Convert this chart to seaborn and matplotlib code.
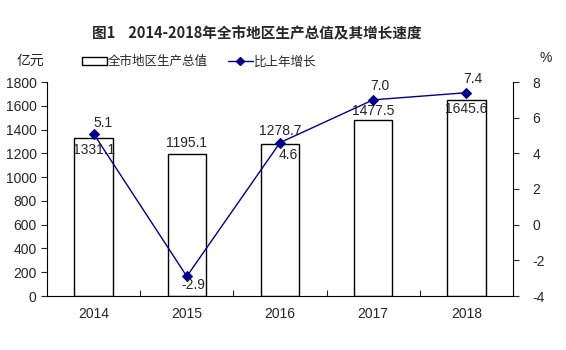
import matplotlib
matplotlib.use("Agg")
import matplotlib.pyplot as plt
import seaborn as sns
import numpy as np
import pandas as pd
from matplotlib.patches import Patch
from matplotlib.lines import Line2D

years = ["2014", "2015", "2016", "2017", "2018"]
gdp = [1331.1, 1195.1, 1278.7, 1477.5, 1645.6]
growth = [5.1, -2.9, 4.6, 7.0, 7.4]
gdp_labels = ["1331.1", "1195.1", "1278.7", "1477.5", "1645.6"]
growth_labels = ["5.1", "-2.9", "4.6", "7.0", "7.4"]

sns.set_style("white")
plt.rcParams['font.family'] = ['Liberation Sans', 'Noto Sans CJK SC', 'DejaVu Sans']
plt.rcParams['axes.unicode_minus'] = False
CJK = ['Noto Sans CJK SC', 'DejaVu Sans']

fig = plt.figure(figsize=(5.66, 3.5), dpi=100)
ax = fig.add_axes([47/566, 54/350, 466/566, 214/350])

df = pd.DataFrame({"year": years, "gdp": gdp})
sns.barplot(data=df, x="year", y="gdp", ax=ax, color="white", edgecolor="black",
            linewidth=1.0, width=0.41, saturation=1)
ax.set_xlim(-0.5, 4.5)
ax.set_ylim(0, 1800)
ax.set_yticks(np.arange(0, 1801, 200))
ax.set_xlabel("")
ax.set_ylabel("")
ax.tick_params(axis='y', labelsize=10, length=4, direction='out', left=True, width=0.8)
ax.tick_params(axis='x', labelsize=10, length=0, pad=8)
ax.set_xticks(np.arange(0.5, 4.5, 1.0), minor=True)
ax.tick_params(axis='x', which='minor', length=4, direction='in', bottom=True, width=0.8)
for s in ['top', 'right']:
    ax.spines[s].set_visible(False)
for s in ['left', 'bottom']:
    ax.spines[s].set_color('black')
    ax.spines[s].set_linewidth(0.8)

ax2 = ax.twinx()
x = np.arange(len(years))
sns.lineplot(x=x, y=growth, ax=ax2, color="#00008B", marker="D", markersize=5,
             markeredgecolor="#00008B", linewidth=1.0)
ax2.set_ylim(-4, 8)
ax2.set_yticks(np.arange(-4, 9, 2))
ax2.tick_params(axis='y', labelsize=10, length=4, direction='out', right=True, width=0.8, pad=10)
for s in ['top', 'left', 'bottom']:
    ax2.spines[s].set_visible(False)
ax2.spines['right'].set_color('black')
ax2.spines['right'].set_linewidth(0.8)
ax2.set_xlim(-0.5, 4.5)

# bar labels (offset in points from bar top)
gdp_off = [(0, -9), (0, 8), (0, 9), (0, 7), (0, -6)]
for i, (v, t) in enumerate(zip(gdp, gdp_labels)):
    ax.annotate(t, (i, v), xytext=gdp_off[i], textcoords='offset points',
                ha='center', va='center', fontsize=10)
grow_off = [(7, 8), (5, -6), (6, -9), (5, 10), (5, 10)]
for i, (v, t) in enumerate(zip(growth, growth_labels)):
    ax2.annotate(t, (i, v), xytext=grow_off[i], textcoords='offset points',
                 ha='center', va='center', fontsize=10)

fig.text(257/566, 1 - 33/350, "图1    2014-2018年全市地区生产总值及其增长速度", ha='center', va='center',
         fontsize=10.5, fontweight='bold', family=CJK)
fig.text(30/566, 1 - 61/350, "亿元", ha='center', va='center', fontsize=10, family=CJK)
fig.text(546/566, 1 - 58/350, "%", ha='center', va='center', fontsize=10)

handles = [Patch(facecolor='white', edgecolor='black', linewidth=1.0),
           Line2D([0], [0], color="#00008B", marker="D", markersize=4, linewidth=1.0)]
fig.legend(handles, ["全市地区生产总值", "比上年增长"], loc='center',
           bbox_to_anchor=(199/566, 1 - 62/350), ncol=2, frameon=False,
           prop={'family': CJK, 'size': 9}, handlelength=2.0, handletextpad=0.1,
           columnspacing=1.6, handleheight=0.6)

fig.savefig("out.png", dpi=100)
